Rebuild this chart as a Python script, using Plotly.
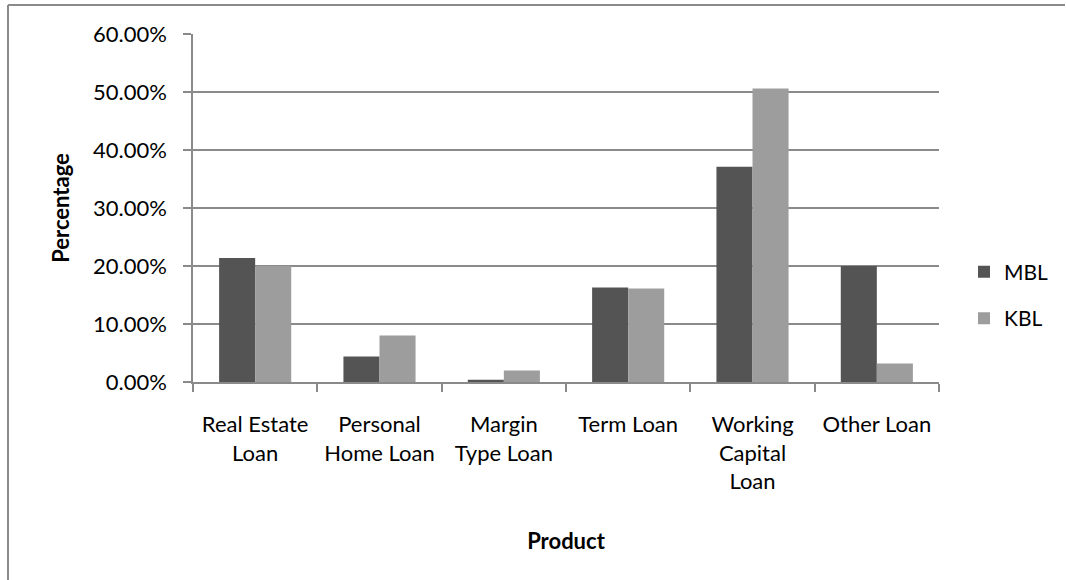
import plotly.graph_objects as go

# Loan product mix for the two banks (percent of total)
products = ["Real Estate Loan", "Personal Home Loan", "Margin Type Loan",
            "Term Loan", "Working Capital Loan", "Other Loan"]
tick_labels = ["Real Estate<br>Loan", "Personal<br>Home Loan", "Margin<br>Type Loan",
               "Term Loan", "Working<br>Capital<br>Loan", "Other Loan"]
mbl_values = [21.4, 4.4, 0.4, 16.3, 37.1, 20.0]
kbl_values = [20.0, 8.0, 2.0, 16.1, 50.6, 3.2]
y_ticks = [0, 10, 20, 30, 40, 50, 60]
y_tick_labels = ["0.00%", "10.00%", "20.00%", "30.00%", "40.00%", "50.00%", "60.00%"]

FONT = "Lato"
GRID = "#8a8a8a"
FS = 22

fig = go.Figure()
fig.add_trace(go.Bar(name="MBL", x=products, y=mbl_values,
                     marker=dict(color="#545454", line=dict(width=0)),
                     legendgroup="a"))
fig.add_trace(go.Bar(name="KBL", x=products, y=kbl_values,
                     marker=dict(color="#9d9d9d", line=dict(width=0)),
                     legendgroup="b"))

W, H = 1066, 580
L, R, T, B = 193, 127, 34, 198
plot_w = W - L - R

fig.update_layout(
    width=W, height=H,
    margin=dict(l=L, r=R, t=T, b=B, pad=0, autoexpand=False),
    paper_bgcolor="white", plot_bgcolor="white",
    font=dict(family=FONT, size=FS, color="black"),
    barmode="group", bargap=0.42, bargroupgap=0,
    showlegend=True,
    legend=dict(x=(964 - L) / plot_w, xanchor="left",
                y=(382.3 - 252) / (382.3 - 34.3), yanchor="top",
                font=dict(family=FONT, size=FS - 1, color="black"),
                traceorder="grouped", tracegroupgap=16,
                bgcolor="rgba(0,0,0,0)"),
    xaxis=dict(
        type="category", automargin=False, tickangle=0,
        tickmode="array", tickvals=products, ticktext=tick_labels,
        tickson="boundaries", ticks="outside", ticklen=8, tickwidth=1.5,
        tickcolor=GRID, showline=True, linecolor=GRID, linewidth=1.5,
        showgrid=False, ticklabelstandoff=22,
        tickfont=dict(family=FONT, size=FS, color="black"),
        title=dict(text="<b>Product</b>", standoff=40,
                   font=dict(family=FONT, size=FS, color="black")),
        fixedrange=True,
    ),
    yaxis=dict(
        range=[0, 60], automargin=False,
        tickmode="array", tickvals=y_ticks, ticktext=y_tick_labels,
        ticks="outside", ticklen=8, tickwidth=1.5, tickcolor=GRID,
        showline=True, linecolor=GRID, linewidth=1.5,
        showgrid=True, gridcolor=GRID, gridwidth=1.5,
        zeroline=False, ticklabelstandoff=12,
        tickfont=dict(family=FONT, size=FS, color="black"),
        title=dict(text="<b>Percentage</b>", standoff=17,
                   font=dict(family=FONT, size=FS, color="black")),
        fixedrange=True,
    ),
    shapes=[
        # chart-area border along the top and left edges
        dict(type="line", xref="paper", yref="paper",
             xsizemode="pixel", ysizemode="pixel", xanchor=0, yanchor=1,
             x0=8 - L, x1=W - L - 1, y0=T - 5, y1=T - 5,
             line=dict(color=GRID, width=2)),
        dict(type="line", xref="paper", yref="paper",
             xsizemode="pixel", ysizemode="pixel", xanchor=0, yanchor=1,
             x0=8 - L, x1=8 - L, y0=T - 5, y1=T - H,
             line=dict(color=GRID, width=2)),
    ],
)

fig.write_html("out.html", config={"displayModeBar": False})
